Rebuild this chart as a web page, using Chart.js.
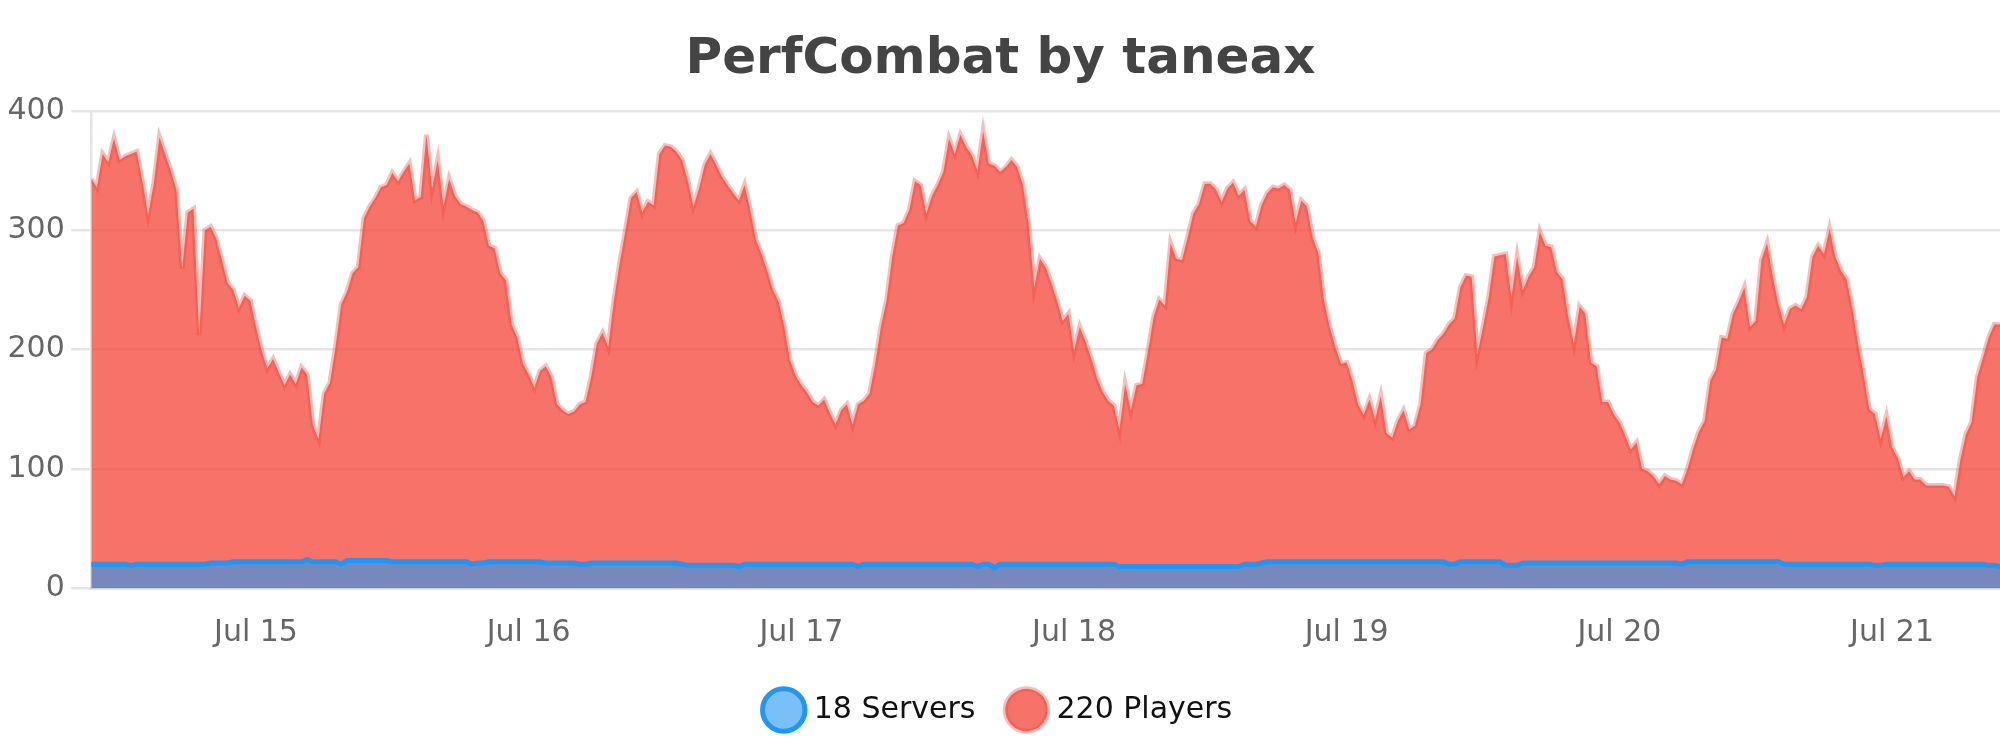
<!DOCTYPE html>
<html>
<head>
<meta charset="utf-8">
<script src="https://cdn.jsdelivr.net/npm/chart.js@4.4.0/dist/chart.umd.min.js"></script>
<style>
html,body{margin:0;padding:0;background:#fff;overflow:hidden}
#wrap{width:2000px;height:750px;position:relative}
</style>
</head>
<body>
<div id="wrap"><canvas id="c"></canvas></div>
<script>
// half-hour samples starting Jul 14 09:30, ending Jul 21 09:30
const firstMidnightIndex = 29;
const pointsPerDay = 48;
const dayLabels = ['Jul 15', 'Jul 16', 'Jul 17', 'Jul 18', 'Jul 19', 'Jul 20', 'Jul 21'];
const seriesLabels = ['18 Servers', '220 Players'];
const yTicks = [0, 100, 200, 300, 400];

const players = [
  343,336,364,357,377,359,362,364,366,341,313,339,378,364,350,334,268,315,318,212,
  300,303,293,275,256,250,235,245,241,219,199,184,192,181,170,179,171,185,179,137,
  125,163,172,202,238,248,264,269,310,320,327,336,338,348,341,349,356,325,328,380,
  335,359,320,343,329,322,320,317,315,308,287,285,264,258,221,210,188,179,168,182,
  186,177,154,149,146,148,154,156,177,205,214,202,241,272,299,327,332,315,324,321,
  364,371,370,366,359,342,320,335,355,364,355,345,338,331,325,338,317,292,280,266,
  250,240,219,191,178,170,164,156,153,158,147,137,149,154,137,154,157,163,188,219,
  241,278,304,306,317,341,338,314,329,338,349,377,364,380,370,363,350,383,356,354,
  349,353,359,353,338,306,252,276,269,256,241,224,230,199,219,207,193,177,165,157,
  153,133,171,149,170,171,198,227,242,237,289,276,275,294,314,322,339,339,334,324,
  335,340,329,334,308,303,321,331,336,335,338,334,306,325,320,294,281,241,219,202,
  188,189,174,154,145,158,141,161,130,126,140,149,133,136,154,197,200,208,213,221,
  226,252,262,261,196,219,244,278,279,280,244,278,250,261,269,299,287,286,265,259,
  227,205,236,230,189,186,156,156,146,139,128,116,122,100,98,94,87,94,91,90,
  87,100,117,131,140,174,183,210,209,230,240,252,219,224,275,289,261,238,221,234,
  237,234,244,278,287,280,301,278,266,259,235,205,179,150,146,125,144,118,109,93,
  98,91,91,86,86,86,86,85,77,107,129,139,177,193,210,221,221
];

const servers = [
  20,20,20,20,20,20,20,19,20,20,20,20,20,20,20,20,20,20,20,20,
  20,21,21,21,21,22,22,22,22,22,22,22,22,22,22,22,22,22,24,22,
  22,22,22,22,20,23,23,23,23,23,23,23,23,22,22,22,22,22,22,22,
  22,22,22,22,22,22,22,20,21,21,22,22,22,22,22,22,22,22,22,22,
  21,21,21,21,21,21,20,20,21,21,21,21,21,21,21,21,21,21,21,21,
  21,21,21,21,20,19,19,19,19,19,19,19,19,19,18,20,20,20,20,20,
  20,20,20,20,20,20,20,20,20,20,20,20,20,20,20,18,20,20,20,20,
  20,20,20,20,20,20,20,20,20,20,20,20,20,20,20,20,18,20,20,17,
  20,20,20,20,20,20,20,20,20,20,20,20,20,20,20,20,20,20,20,20,
  20,18,18,18,18,18,18,18,18,18,18,18,18,18,18,18,18,18,18,18,
  18,18,18,20,20,20,21,22,22,22,22,22,22,22,22,22,22,22,22,22,
  22,22,22,22,22,22,22,22,22,22,22,22,22,22,22,22,22,22,22,20,
  20,22,22,22,22,22,22,22,22,19,19,19,21,21,21,21,21,21,21,21,
  21,21,21,21,21,21,21,21,21,21,21,21,21,21,21,21,21,21,21,21,
  20,22,22,22,22,22,22,22,22,22,22,22,22,22,22,22,22,22,20,20,
  20,20,20,20,20,20,20,20,20,20,20,20,20,20,19,19,20,20,20,20,
  20,20,20,20,20,20,20,20,20,20,20,20,20,20,19,19,18
];

const xValues = players.map((_, i) => i);

Chart.defaults.font.family = "'DejaVu Sans', sans-serif";

new Chart(document.getElementById('c'), {
  type: 'line',
  data: {
    labels: xValues,
    datasets: [
      {
        label: seriesLabels[0],
        data: servers,
        borderColor: '#2196F3',
        backgroundColor: 'rgba(33,150,243,0.6)',
        borderWidth: 5,
        fill: 'origin',
        pointRadius: 0,
        tension: 0
      },
      {
        label: seriesLabels[1],
        data: players,
        borderColor: 'rgba(244,67,54,0.35)',
        backgroundColor: 'rgba(244,67,54,0.75)',
        borderWidth: 5,
        fill: 'origin',
        pointRadius: 0,
        tension: 0
      }
    ]
  },
  options: {
    responsive: true,
    maintainAspectRatio: false,
    devicePixelRatio: 1,
    animation: false,
    layout: { padding: { left: 1, right: 0, top: 0, bottom: 15 } },
    plugins: {
      title: {
        display: true,
        text: 'PerfCombat by taneax',
        color: '#444',
        font: { size: 50, weight: 'bold' },
        padding: { top: 30, bottom: 21 }
      },
      legend: {
        position: 'bottom',
        labels: {
          usePointStyle: true,
          pointStyle: 'circle',
          color: '#111',
          font: { size: 30 },
          padding: 36
        }
      },
      tooltip: { enabled: false }
    },
    scales: {
      x: {
        type: 'linear',
        min: 0,
        max: players.length - 1,
        grid: { display: false, drawTicks: false },
        border: { display: true, color: 'rgba(0,0,0,0.1)', width: 2.5 },
        afterBuildTicks: (scale) => {
          scale.ticks = dayLabels.map((_, k) => ({ value: firstMidnightIndex + k * pointsPerDay }));
        },
        afterFit: (scale) => { scale.height -= 19; },
        ticks: {
          color: '#666',
          font: { size: 30 },
          padding: 27,
          maxRotation: 0,
          autoSkip: false,
          callback: (v) => dayLabels[Math.round((v - firstMidnightIndex) / pointsPerDay)]
        }
      },
      y: {
        min: yTicks[0],
        max: yTicks[yTicks.length - 1],
        grid: { color: 'rgba(0,0,0,0.1)', lineWidth: 2.5, tickLength: 20 },
        border: { display: true, color: 'rgba(0,0,0,0.1)', width: 2.5 },
        afterBuildTicks: (scale) => { scale.ticks = yTicks.map(v => ({ value: v })); },
        ticks: {
          color: '#666',
          font: { size: 30 },
          padding: 6.5
        }
      }
    }
  }
});
</script>
</body>
</html>
